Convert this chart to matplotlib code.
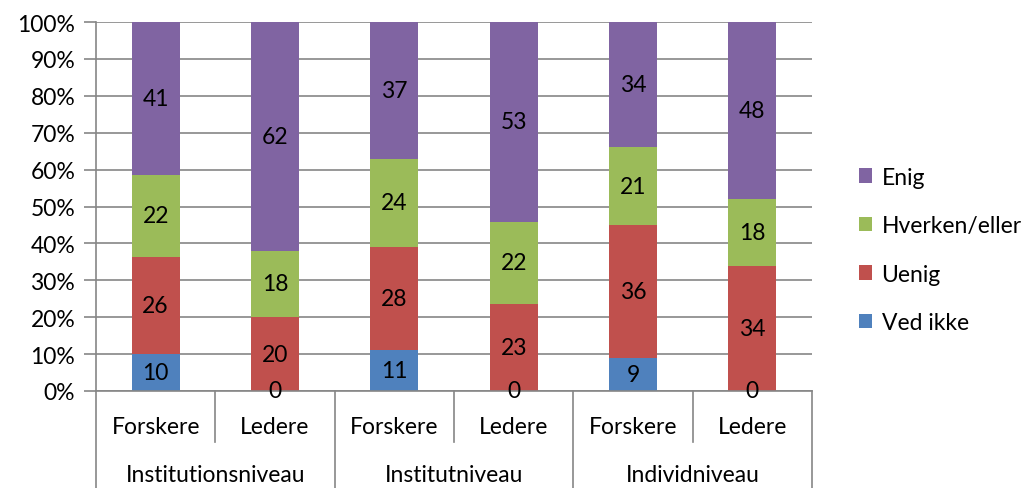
import matplotlib.pyplot as plt
import numpy as np
from matplotlib.transforms import blended_transform_factory

plt.rcParams["font.family"] = ["Lato", "DejaVu Sans"]

groups = ["Institutionsniveau", "Institutniveau", "Individniveau"]
roles = ["Forskere", "Ledere"]
series = ["Ved ikke", "Uenig", "Hverken/eller", "Enig"]

ved_ikke = [10, 0, 11, 0, 9, 0]
uenig = [26, 20, 28, 23, 36, 34]
hverken = [22, 18, 24, 22, 21, 18]
enig = [41, 62, 37, 53, 34, 48]

COLORS = ["#4F81BD", "#C0504D", "#9BBB59", "#8064A2"]
GRID = "#868686"
FS = 16.5

values = np.array([ved_ikke, uenig, hverken, enig], dtype=float)
totals = values.sum(axis=0)
pct = values / totals * 100

fig = plt.figure(figsize=(10.26, 4.89), dpi=100)
ax = fig.add_axes([96 / 1026, 1 - 392 / 489, 716 / 1026, 369 / 489])

n = values.shape[1]
x = np.arange(n)
bottom = np.zeros(n)
for i, name in enumerate(series):
    ax.bar(x, pct[i], bottom=bottom, width=0.4, color=COLORS[i],
           label=name, zorder=2)
    for j in range(n):
        ax.text(x[j], bottom[j] + pct[i][j] / 2, f"{int(values[i][j])}",
                ha="center", va="center", fontsize=FS, color="black",
                zorder=3, clip_on=False)
    bottom += pct[i]

ax.set_xlim(-0.5, n - 0.5)
ax.set_ylim(0, 100)
ax.set_yticks(np.arange(0, 101, 10))
ax.set_yticklabels([f"{v}%" for v in range(0, 101, 10)], fontsize=FS)
ax.yaxis.grid(True, color=GRID, linewidth=1.2, zorder=0)
ax.tick_params(axis="y", length=9, color=GRID, width=1.2, pad=6)
ax.set_xticks([])
for s in ["top", "right"]:
    ax.spines[s].set_visible(False)
ax.spines["left"].set_color(GRID)
ax.spines["left"].set_linewidth(1.2)
ax.spines["bottom"].set_color(GRID)
ax.spines["bottom"].set_linewidth(1.2)

# category axis: two levels
trans = blended_transform_factory(ax.transData, ax.transAxes)
px = 1 / 369  # one pixel in axes units (vertical)
for j in range(n):
    ax.text(x[j], -36 * px, roles[j % 2], transform=trans, ha="center",
            va="center", fontsize=FS)
for k, g in enumerate(groups):
    ax.text(2 * k + 0.5, -84 * px, g, transform=trans, ha="center",
            va="center", fontsize=FS)

# dividers between roles (short) and groups (long)
for b in np.arange(0.5, n - 0.5, 1.0):
    if int(b + 0.5) % 2 == 1:
        ax.plot([b, b], [0, -51 * px], transform=trans, color=GRID,
                linewidth=1.2, clip_on=False)
for b in [-0.5, 1.5, 3.5, 5.5]:
    ax.plot([b, b], [0, -97 * px], transform=trans, color=GRID,
            linewidth=1.2, clip_on=False)

handles, labels = ax.get_legend_handles_labels()
fig.legend(handles[::-1], labels[::-1], loc="center left",
           bbox_to_anchor=(838 / 1026, 1 - 251 / 489), frameon=False,
           fontsize=FS, handlelength=0.6, handleheight=0.6,
           labelspacing=1.2, handletextpad=0.4)

fig.savefig("out.png", dpi=100)
